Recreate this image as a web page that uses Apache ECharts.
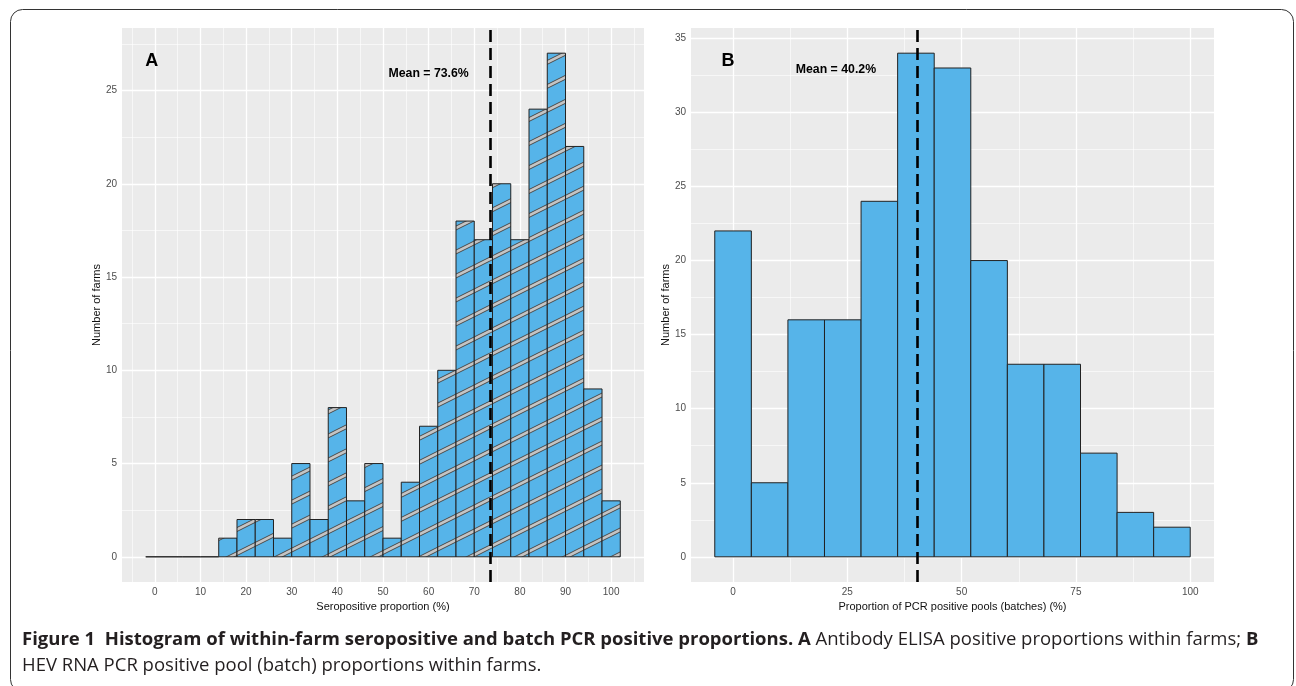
<!DOCTYPE html>
<html>
<head>
<meta charset="utf-8">
<script src="https://cdn.jsdelivr.net/npm/echarts@6/dist/echarts.min.js"></script>
<style>
  html, body { margin: 0; padding: 0; background: #fff; }
  #main { width: 1296px; height: 686px; }
</style>
</head>
<body>
<div id="main"></div>
<script>
// panel A: seropositive proportion, bins of width 4
const binEdgesA = [-2, 2, 6, 10, 14, 18, 22, 26, 30, 34, 38, 42, 46, 50, 54, 58, 62, 66, 70, 74, 78, 82, 86, 90, 94, 98, 102];
const countsA = [0, 0, 0, 0, 1, 2, 2, 1, 5, 2, 8, 3, 5, 1, 4, 7, 10, 18, 17, 20, 17, 24, 27, 22, 9, 3];
const meanA = 73.6;
const xTicksA = [0, 10, 20, 30, 40, 50, 60, 70, 80, 90, 100];
const xMinorA = [-5, 5, 15, 25, 35, 45, 55, 65, 75, 85, 95, 105];
const yTicksA = [0, 5, 10, 15, 20, 25];
const yMinorA = [2.5, 7.5, 12.5, 17.5, 22.5, 27.5];

// panel B: PCR positive pools, bins of width 8
const binEdgesB = [-4, 4, 12, 20, 28, 36, 44, 52, 60, 68, 76, 84, 92, 100];
const countsB = [22, 5, 16, 16, 24, 34, 33, 20, 13, 13, 7, 3, 2];
const meanB = 40.2;
const xTicksB = [0, 25, 50, 75, 100];
const xMinorB = [12.5, 37.5, 62.5, 87.5];
const yTicksB = [0, 5, 10, 15, 20, 25, 30, 35];
const yMinorB = [2.5, 7.5, 12.5, 17.5, 22.5, 27.5, 32.5];

const notesA = [[-0.7, 26.6, 'A'], [60, 25.9, 'Mean = 73.6%']];
const notesB = [[-1.1, 33.5, 'B'], [22.5, 32.9, 'Mean = 40.2%']];

const BLUE = '#56B4E9';

// striped fill for panel A
function makeStripes() {
  const c = document.createElement('canvas');
  const h = 24, w = 48;
  c.width = w; c.height = h;
  const g = c.getContext('2d');
  g.fillStyle = BLUE;
  g.fillRect(0, 0, w, h);
  const draw = (col, lw) => {
    g.strokeStyle = col; g.lineWidth = lw;
    for (let k = -2; k <= 3; k++) {
      g.beginPath();
      g.moveTo(-w, h + w / 2 + k * h);
      g.lineTo(2 * w, h - w + k * h);
      g.stroke();
    }
  };
  draw('#4d4d4d', 4.4);
  draw('#c4c4c4', 2.6);
  return { image: c, repeat: 'repeat' };
}
const stripeFill = makeStripes();

function histData(edges, counts) {
  return counts.map((v, i) => [edges[i], edges[i + 1], v]);
}

function histRender(fill) {
  return function (params, api) {
    const p0 = api.coord([api.value(0), api.value(2)]);
    const p1 = api.coord([api.value(1), 0]);
    return {
      type: 'rect',
      shape: { x: p0[0], y: p0[1], width: p1[0] - p0[0], height: p1[1] - p0[1] },
      style: { fill: fill, stroke: '#222', lineWidth: 1 }
    };
  };
}

function noteRender(params, api) {
  const p = api.coord([api.value(0), api.value(1)]);
  const big = params.dataIndex === 0;
  return {
    type: 'text',
    x: p[0], y: p[1],
    style: {
      text: api.value(2),
      fill: '#000',
      font: big ? 'bold 18px "Liberation Sans", Arial' : 'bold 12.3px "Liberation Sans", Arial',
      align: 'center', verticalAlign: 'middle'
    }
  };
}

function gridLines(xMaj, xMin, yMaj, yMin) {
  const d = [];
  xMin.forEach(v => d.push({ xAxis: v, lineStyle: { width: 0.6 } }));
  yMin.forEach(v => d.push({ yAxis: v, lineStyle: { width: 0.6 } }));
  xMaj.forEach(v => d.push({ xAxis: v, lineStyle: { width: 1.3 } }));
  yMaj.forEach(v => d.push({ yAxis: v, lineStyle: { width: 1.3 } }));
  return d;
}

const axisFont = '"Liberation Sans", Arial';

function xAxisOf(idx, min, max, ticks, name) {
  return {
    type: 'value', gridIndex: idx, min: min, max: max,
    name: name, nameLocation: 'middle', nameGap: 18,
    nameTextStyle: { color: '#111', fontSize: 11, fontFamily: axisFont },
    axisLine: { show: false },
    axisTick: { show: true, length: 3, customValues: ticks, lineStyle: { color: '#333' } },
    axisLabel: { customValues: ticks, color: '#4d4d4d', fontSize: 10, margin: 5, fontFamily: axisFont },
    splitLine: { show: false }
  };
}
function yAxisOf(idx, min, max, ticks) {
  return {
    type: 'value', gridIndex: idx, min: min, max: max,
    name: 'Number of farms', nameLocation: 'middle', nameGap: 19,
    nameTextStyle: { color: '#111', fontSize: 11, fontFamily: axisFont },
    axisLine: { show: false },
    axisTick: { show: true, length: 3, customValues: ticks, lineStyle: { color: '#333' } },
    axisLabel: { customValues: ticks, color: '#4d4d4d', fontSize: 10, margin: 5, fontFamily: axisFont },
    splitLine: { show: false }
  };
}

function markSeries(idx, lines, style, z) {
  return {
    type: 'line', xAxisIndex: idx, yAxisIndex: idx, data: [], z: z, silent: true,
    markLine: { z: z, silent: true, animation: false, symbol: ['none', 'none'], label: { show: false },
      lineStyle: style, data: lines }
  };
}

const chart = echarts.init(document.getElementById('main'), null, { renderer: 'canvas' });

const option = {
  animation: false,
  backgroundColor: '#fff',
  grid: [
    { left: 122, top: 28, width: 522, height: 554, show: true, backgroundColor: '#ebebeb', borderWidth: 0 },
    { left: 691, top: 28, width: 523, height: 554, show: true, backgroundColor: '#ebebeb', borderWidth: 0 }
  ],
  xAxis: [
    xAxisOf(0, -7.2, 107.2, xTicksA, 'Seropositive proportion (%)'),
    xAxisOf(1, -9.2, 105.2, xTicksB, 'Proportion of PCR positive pools (batches) (%)')
  ],
  yAxis: [
    yAxisOf(0, -1.35, 28.35, yTicksA),
    yAxisOf(1, -1.7, 35.7, yTicksB)
  ],
  graphic: [
    {
      type: 'rect', z: 100, silent: true,
      shape: { x: 10.5, y: 9.5, width: 1283, height: 682, r: 12 },
      style: { fill: 'none', stroke: '#333', lineWidth: 1 }
    },
    {
      type: 'text', left: 22, top: 630, z: 100,
      style: {
        text: '{b|Figure 1  Histogram of within-farm seropositive and batch PCR positive proportions. A} Antibody ELISA positive proportions within farms; {b|B}',
        font: '18.5px "Open Sans"', fill: '#231f20',
        rich: { b: { font: 'bold 18.5px "Open Sans"', fill: '#231f20' } }
      }
    },
    {
      type: 'text', left: 22, top: 656, z: 100,
      style: { text: 'HEV RNA PCR positive pool (batch) proportions within farms.', font: '18.5px "Open Sans"', fill: '#231f20' }
    }
  ],
  series: [
    markSeries(0, gridLines(xTicksA, xMinorA, yTicksA, yMinorA), { color: '#fff', type: 'solid' }, 1),
    markSeries(1, gridLines(xTicksB, xMinorB, yTicksB, yMinorB), { color: '#fff', type: 'solid' }, 1),
    {
      type: 'custom', xAxisIndex: 0, yAxisIndex: 0, z: 2,
      renderItem: histRender(stripeFill),
      encode: { x: [0, 1], y: 2 },
      data: histData(binEdgesA, countsA)
    },
    {
      type: 'custom', xAxisIndex: 1, yAxisIndex: 1, z: 2,
      renderItem: histRender(BLUE),
      encode: { x: [0, 1], y: 2 },
      data: histData(binEdgesB, countsB)
    },
    markSeries(0, [{ xAxis: meanA }], { color: '#000', width: 2.6, type: [12, 6] }, 5),
    markSeries(1, [{ xAxis: meanB }], { color: '#000', width: 2.6, type: [12, 6] }, 5),
    {
      type: 'custom', xAxisIndex: 0, yAxisIndex: 0, z: 6,
      renderItem: noteRender, encode: { x: 0, y: 1 }, data: notesA
    },
    {
      type: 'custom', xAxisIndex: 1, yAxisIndex: 1, z: 6,
      renderItem: noteRender, encode: { x: 0, y: 1 }, data: notesB
    }
  ]
};

chart.setOption(option);
</script>
</body>
</html>
